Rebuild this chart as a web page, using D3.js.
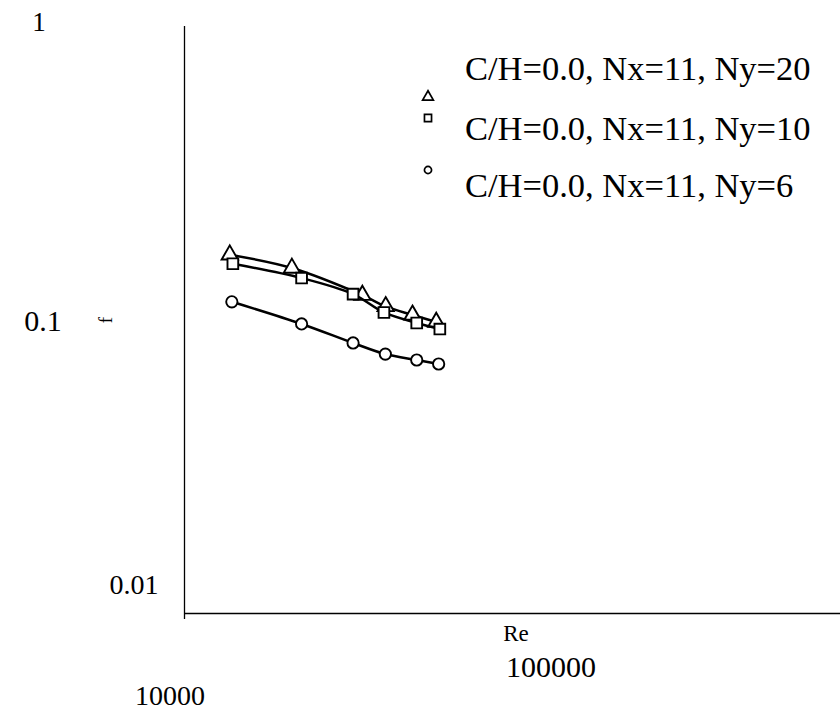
<!DOCTYPE html>
<html><head><meta charset="utf-8">
<script src="https://cdn.jsdelivr.net/npm/d3@7/dist/d3.min.js"></script>
<style>body{margin:0;background:#fff}svg{display:block}</style>
</head><body><svg id="c" width="840" height="711"></svg>
<script>
// Data
const reTri = [13700, 21200, 34800, 41000, 49500, 58500];
const fTri  = [0.163, 0.147, 0.119, 0.109, 0.102, 0.0965];
const reSq  = [14000, 22700, 32600, 40500, 51000, 60000];
const fSq   = [0.152, 0.136, 0.120, 0.104, 0.0958, 0.0914];
const reCi  = [13900, 22700, 32600, 40900, 51000, 59500];
const fCi   = [0.113, 0.0951, 0.082, 0.0752, 0.0718, 0.0696];
const seriesNames = ["C/H=0.0, Nx=11, Ny=20", "C/H=0.0, Nx=11, Ny=10", "C/H=0.0, Nx=11, Ny=6"];
const xTicks = [10000, 100000];
const yTicks = [1, 0.1, 0.01];
const xLabel = "Re", yLabel = "f";

const FONT = "'Liberation Serif', 'Times New Roman', Times, 'DejaVu Serif', serif";
const svg = d3.select("#c").style("font-family", FONT);
const x = d3.scaleLog().domain([10000, 1000000]).range([185, 840]);
const y = d3.scaleLog().domain([0.01, 1]).range([613, 22]);

function txt(xp, yp, size, s, anchor) {
  return svg.append("text").attr("x", xp).attr("y", yp).style("font-family", FONT)
    .attr("font-size", size).attr("text-anchor", anchor || "start").attr("fill", "#000").text(s);
}

// axes lines
svg.append("line").attr("x1", 184.5).attr("x2", 184.5).attr("y1", y(1) + 4).attr("y2", y(0.01) + 6).attr("stroke", "#000").attr("stroke-width", 1.3);
svg.append("line").attr("x1", 184).attr("x2", 840).attr("y1", y(0.01) + 0.5).attr("y2", y(0.01) + 0.5).attr("stroke", "#000").attr("stroke-width", 1.3);

// tick labels (odd placement as in the reference)
const yPos = {1: [39, 9, 27], 0.1: [43, 13, 30], 0.01: [134, -19, 28]};
yTicks.forEach(t => txt(yPos[t][0], y(t) + yPos[t][1], yPos[t][2], String(t), "middle"));
const xPos = {10000: [-15, 92, 28], 100000: [366, 64, 30]};
xTicks.forEach(t => txt(xPos[t][0] + (t === 10000 ? x(t) : 185), y(0.01) + xPos[t][1], xPos[t][2], d3.format("d")(t), "middle"));
txt(516, 641, 23, xLabel, "middle");
svg.append("text").attr("transform", "translate(112,320) rotate(-90)").attr("text-anchor", "middle")
  .style("font-family", FONT).attr("font-size", 19).text(yLabel);

const series = [
  {re: reTri, f: fTri, sym: d3.symbolTriangle},
  {re: reSq, f: fSq, sym: d3.symbolSquare},
  {re: reCi, f: fCi, sym: d3.symbolCircle}
];
const line = d3.line().x(d => x(d[0])).y(d => y(d[1])).curve(d3.curveCatmullRom.alpha(0.5));
series.forEach(s => {
  const pts = s.re.map((r, i) => [r, s.f[i]]);
  svg.append("path").attr("d", line(pts)).attr("fill", "none").attr("stroke", "#000").attr("stroke-width", 2.5);
  svg.selectAll(null).data(pts).enter().append("path")
    .attr("d", d3.symbol().type(s.sym).size(s.sym === d3.symbolCircle ? 100 : 115))
    .attr("transform", d => `translate(${x(d[0])},${y(d[1])})`)
    .attr("fill", "#fff").attr("stroke", "#000").attr("stroke-width", 1.9);
});

// legend
const legY = [97, 118, 170];
const legTextY = [80, 140, 197];
series.forEach((s, i) => {
  svg.append("path").attr("d", d3.symbol().type(s.sym).size(s.sym === d3.symbolCircle ? 40 : 50))
    .attr("transform", `translate(428,${legY[i]})`).attr("fill", "none").attr("stroke", "#000").attr("stroke-width", 1.7);
  txt(465, legTextY[i], 34.5, seriesNames[i]);
});
</script></body></html>
